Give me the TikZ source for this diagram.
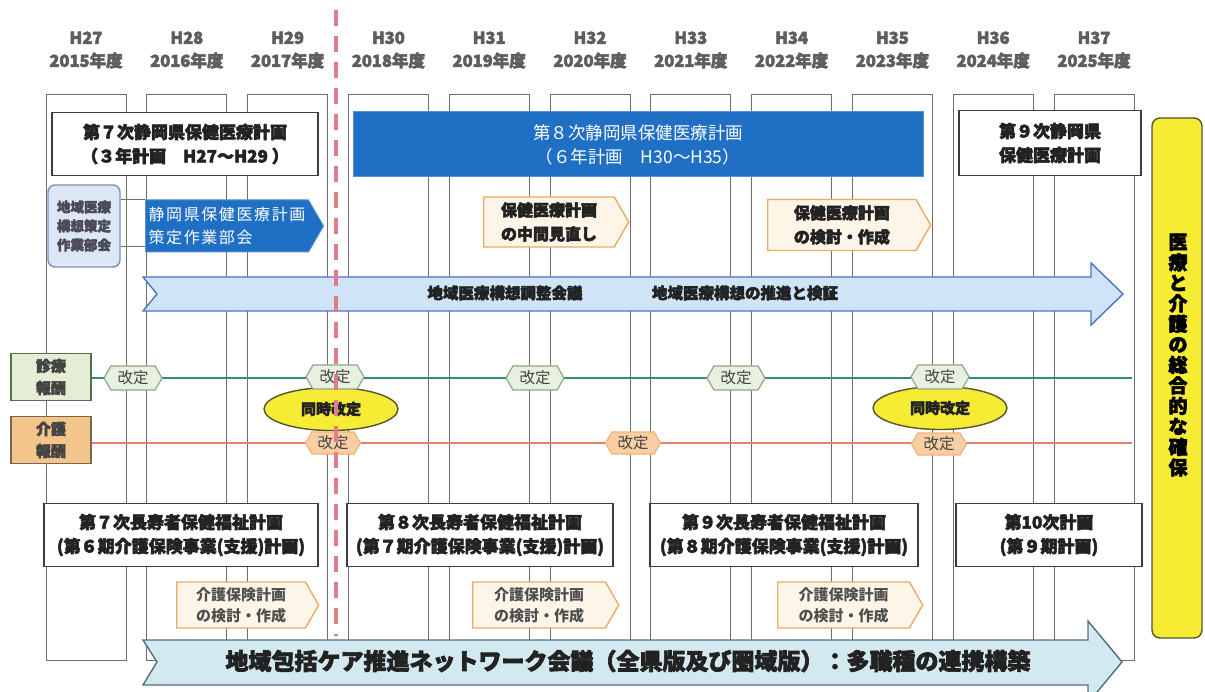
\documentclass[tikz,border=0pt]{standalone}
\usepackage{fontspec}
\setmainfont{Noto Sans CJK JP}
\newfontfamily\hvyfam{Noto Sans CJK JP}[FakeBold=3]
\newcommand\hvy{\hvyfam\bfseries}
\usetikzlibrary{shapes.geometric,shapes.symbols}
\definecolor{colL}{HTML}{6E6E6E}
\definecolor{hdrC}{HTML}{5E5E5E}
\definecolor{txt}{HTML}{222222}
\definecolor{boxL}{HTML}{3C3C3C}
\definecolor{blueF}{HTML}{1F6FC5}
\definecolor{blueL}{HTML}{5B8FD0}
\definecolor{sbF}{HTML}{DCE6F4}
\definecolor{sbL}{HTML}{7D8FBF}
\definecolor{sbT}{HTML}{4A4A58}
\definecolor{orgF}{HTML}{FDF6E8}
\definecolor{orgL}{HTML}{EBAA66}
\definecolor{arrF}{HTML}{CFE5F7}
\definecolor{arrL}{HTML}{4B74BF}
\definecolor{barF}{HTML}{D3E9F0}
\definecolor{barL}{HTML}{4F6F7F}
\definecolor{grnL}{HTML}{2E936A}
\definecolor{redL}{HTML}{E5806E}
\definecolor{tagGF}{HTML}{E8F1E0}
\definecolor{tagGL}{HTML}{8FA58A}
\definecolor{tagOF}{HTML}{F8CFA2}
\definecolor{tagOL}{HTML}{F2B27E}
\definecolor{shinF}{HTML}{E5EDD5}
\definecolor{shinL}{HTML}{56704F}
\definecolor{kaiF}{HTML}{F4C58B}
\definecolor{kaiL}{HTML}{7A6552}
\definecolor{yel}{HTML}{F6EC34}
\definecolor{yelL}{HTML}{555533}
\definecolor{redDash}{HTML}{E27C88}
\begin{document}
\begin{tikzpicture}[x=1pt,y=-1pt,
 colbox/.style={draw=colL,line width=1pt,fill=white,inner sep=0pt},
 hdr/.style={font=\fontsize{16.5}{23}\selectfont\hvy,text=hdrC,align=center,inner sep=0pt},
 plan/.style={draw=boxL,line width=1.4pt,fill=white,align=center,text=txt,inner sep=0pt,font=\fontsize{17}{24}\selectfont\hvy},
 bluebox/.style={draw=blueL,line width=1pt,fill=blueF,align=center,text=white,inner sep=0pt,font=\fontsize{17.5}{24}\selectfont},
 sbox/.style={draw=sbL,line width=1.4pt,fill=sbF,align=center,text=sbT,inner sep=0pt,rounded corners=7pt,font=\fontsize{13.5}{19}\selectfont\hvy},
 bluepent/.style={signal,signal to=east,signal pointer angle=120,draw=blueL,line width=1pt,fill=blueF,text=white,align=left,inner sep=0pt,font=\fontsize{16}{23}\selectfont\addfontfeature{LetterSpace=10}},
 opent/.style={signal,signal to=east,signal pointer angle=120,draw=orgL,line width=1.4pt,fill=orgF,text=txt,align=left,inner sep=0pt,font=\fontsize{16}{24}\selectfont\hvy},
 kpent/.style={signal,signal to=east,signal pointer angle=120,draw=orgL,line width=1.4pt,fill=orgF,text=txt!80,align=left,inner sep=0pt,font=\fontsize{15}{21}\selectfont\bfseries},
 arrA/.style={draw=arrL,line width=1.4pt,fill=arrF},
 arrB/.style={draw=barL,line width=1.4pt,fill=barF},
 arrtxt/.style={text=txt,font=\fontsize{15.5}{18}\selectfont\hvy,inner sep=0pt},
 rbox/.style={line width=1.4pt,align=center,text=txt!85,inner sep=0pt,minimum width=80pt,minimum height=47pt,font=\fontsize{15}{22}\selectfont\hvy},
 tagG/.style={signal,signal from=nowhere,signal to=east and west,signal pointer angle=120,draw=tagGL,line width=1.2pt,fill=tagGF,text=txt!85,inner xsep=3pt,inner ysep=0pt,minimum height=24pt,minimum width=58pt,font=\fontsize{15.5}{17}\selectfont},
 tagO/.style={signal,signal from=nowhere,signal to=east and west,signal pointer angle=120,draw=tagOL,line width=1.2pt,fill=tagOF,text=txt!85,inner xsep=3pt,inner ysep=0pt,minimum height=22pt,minimum width=55pt,font=\fontsize{15.5}{17}\selectfont},
 ell/.style={ellipse,draw=yelL,line width=1.4pt,fill=yel,text=txt,inner sep=0pt,minimum width=134pt,minimum height=43pt,font=\fontsize{15}{17}\selectfont\hvy},
 ybar/.style={draw=yelL,line width=1.4pt,fill=yel,rounded corners=8pt,inner sep=0pt,minimum width=50pt,minimum height=520pt},
 ytxt/.style={align=center,text=black,inner sep=0pt,font=\fontsize{19}{20.5}\selectfont\hvy}
]
\useasboundingbox (0,0) rectangle (1205,692);
\fill[white] (0,0) rectangle (1205,692);

% year columns
\foreach \i in {0,...,10} {
  \pgfmathsetmacro\cx{86+100.8*\i}
  \node[colbox,minimum width=80pt,minimum height=565pt] (c\i) at (\cx,377.5) {};
}
% headers
\foreach \i/\h/\yr in {0/27/2015,1/28/2016,2/29/2017,3/30/2018,4/31/2019,5/32/2020,6/33/2021,7/34/2022,8/35/2023,9/36/2024,10/37/2025} {
  \pgfmathsetmacro\cx{86+100.8*\i}
  \node[hdr] (h\i) at (\cx,50) {H\h\\\yr 年度};
}

% top plans
\node[plan,minimum width=266pt,minimum height=63pt] (p7) at (185,144) {第７次静岡県保健医療計画\\（３年計画　H27～H29 ）};
\node[bluebox,minimum width=570pt,minimum height=65pt] (p8) at (638,144.5) {第８次静岡県保健医療計画\\（６年計画　H30～H35）};
\node[plan,minimum width=182pt,minimum height=65pt] (p9) at (1050,143) {第９次静岡県\\保健医療計画};

\node[sbox,minimum width=72pt,minimum height=82pt] (sb) at (84,226) {地域医療\\構想策定\\作業部会};
\node[bluepent,anchor=west,minimum width=178pt,minimum height=52pt] (sk) at (145,226) {静岡県保健医療計画\\策定作業部会};
\draw[colL,line width=1pt] ([yshift=26pt]sb.east) -- ([yshift=26pt]sk.west);
\draw[colL,line width=1pt] ([yshift=-21pt]sb.east) -- ([yshift=-21pt]sk.west);

\node[opent,anchor=west,minimum width=145pt,minimum height=50pt] (mr) at (483,222) {保健医療計画\\の中間見直し};
\node[opent,anchor=west,minimum width=163pt,minimum height=51pt] (kk) at (767,225) {保健医療計画\\の検討・作成};

% long arrow
\draw[arrA] (143,277) -- (1091,277) -- (1091,263) -- (1123,294) -- (1091,325) -- (1091,311) -- (143,311) -- (157,294) -- cycle;
\node[arrtxt] (a1) at (505,293) {地域医療構想調整会議};
\node[arrtxt] (a2) at (745,293) {地域医療構想の推進と検証};

% reward rows
\node[rbox,fill=shinF,draw=shinL] (shin) at (51,377) {診療\\報酬};
\node[rbox,fill=kaiF,draw=kaiL] (kai) at (51,440) {介護\\報酬};
\coordinate (gEnd) at (1132,378);
\coordinate (rEnd) at (1132,443);
\draw[grnL,line width=1.8pt] (shin.east |- gEnd) -- (gEnd);
\draw[redL,line width=1.5pt] (kai.east |- rEnd) -- (rEnd);

\node[ell] (e1) at (331,409) {同時改定};
\node[ell] (e2) at (940,408) {同時改定};

\node[tagG] (g1) at (133,378) {改定};
\node[tagG] (g2) at (335,377) {改定};
\node[tagG] (g3) at (535,378) {改定};
\node[tagG] (g4) at (736,378) {改定};
\node[tagG] (g5) at (940,377) {改定};
\node[tagO] (o1) at (333,443) {改定};
\node[tagO] (o2) at (633,443) {改定};
\node[tagO] (o3) at (939,444) {改定};

% red dashed boundary
\coordinate (dTop) at (336,10);
\coordinate (dBot) at (336,636);
\draw[redDash,line width=4.5pt,dash pattern=on 16pt off 10pt] (dTop) -- (dBot);

% bottom plans
\node[plan,minimum width=274pt,minimum height=63pt] (l7) at (181,535) {第７次長寿者保健福祉計画\\(第６期介護保険事業(支援)計画)};
\node[plan,minimum width=266pt,minimum height=63pt] (l8) at (480,535) {第８次長寿者保健福祉計画\\(第７期介護保険事業(支援)計画)};
\node[plan,minimum width=268pt,minimum height=63pt] (l9) at (784,535) {第９次長寿者保健福祉計画\\(第８期介護保険事業(支援)計画)};
\node[plan,minimum width=186pt,minimum height=63pt] (l10) at (1049,535) {第10次計画\\(第９期計画)};

\node[kpent,anchor=west,minimum width=142pt,minimum height=46pt] (k1) at (176,605) {介護保険計画\\の検討・作成};
\node[kpent,anchor=west,minimum width=146pt,minimum height=46pt] (k2) at (472,605) {介護保険計画\\の検討・作成};
\node[kpent,anchor=west,minimum width=145pt,minimum height=46pt] (k3) at (777,605) {介護保険計画\\の検討・作成};

% bottom arrow
\draw[arrB] (143,640) -- (1088,640) -- (1088,621) -- (1122,662) -- (1088,703) -- (1088,685) -- (143,685) -- (157,662) -- cycle;
\node[text=txt,font=\fontsize{23}{25}\selectfont\hvy,inner sep=0pt] (net) at (628,661) {地域包括ケア推進ネットワーク会議（全県版及び圏域版）：多職種の連携構築};

% yellow bar
\node[ybar] (yb) at (1177,378) {};
\node[ytxt] (yt) at (1178,355) {医\\療\\と\\介\\護\\の\\総\\合\\的\\な\\確\\保};
\end{tikzpicture}
\end{document}
